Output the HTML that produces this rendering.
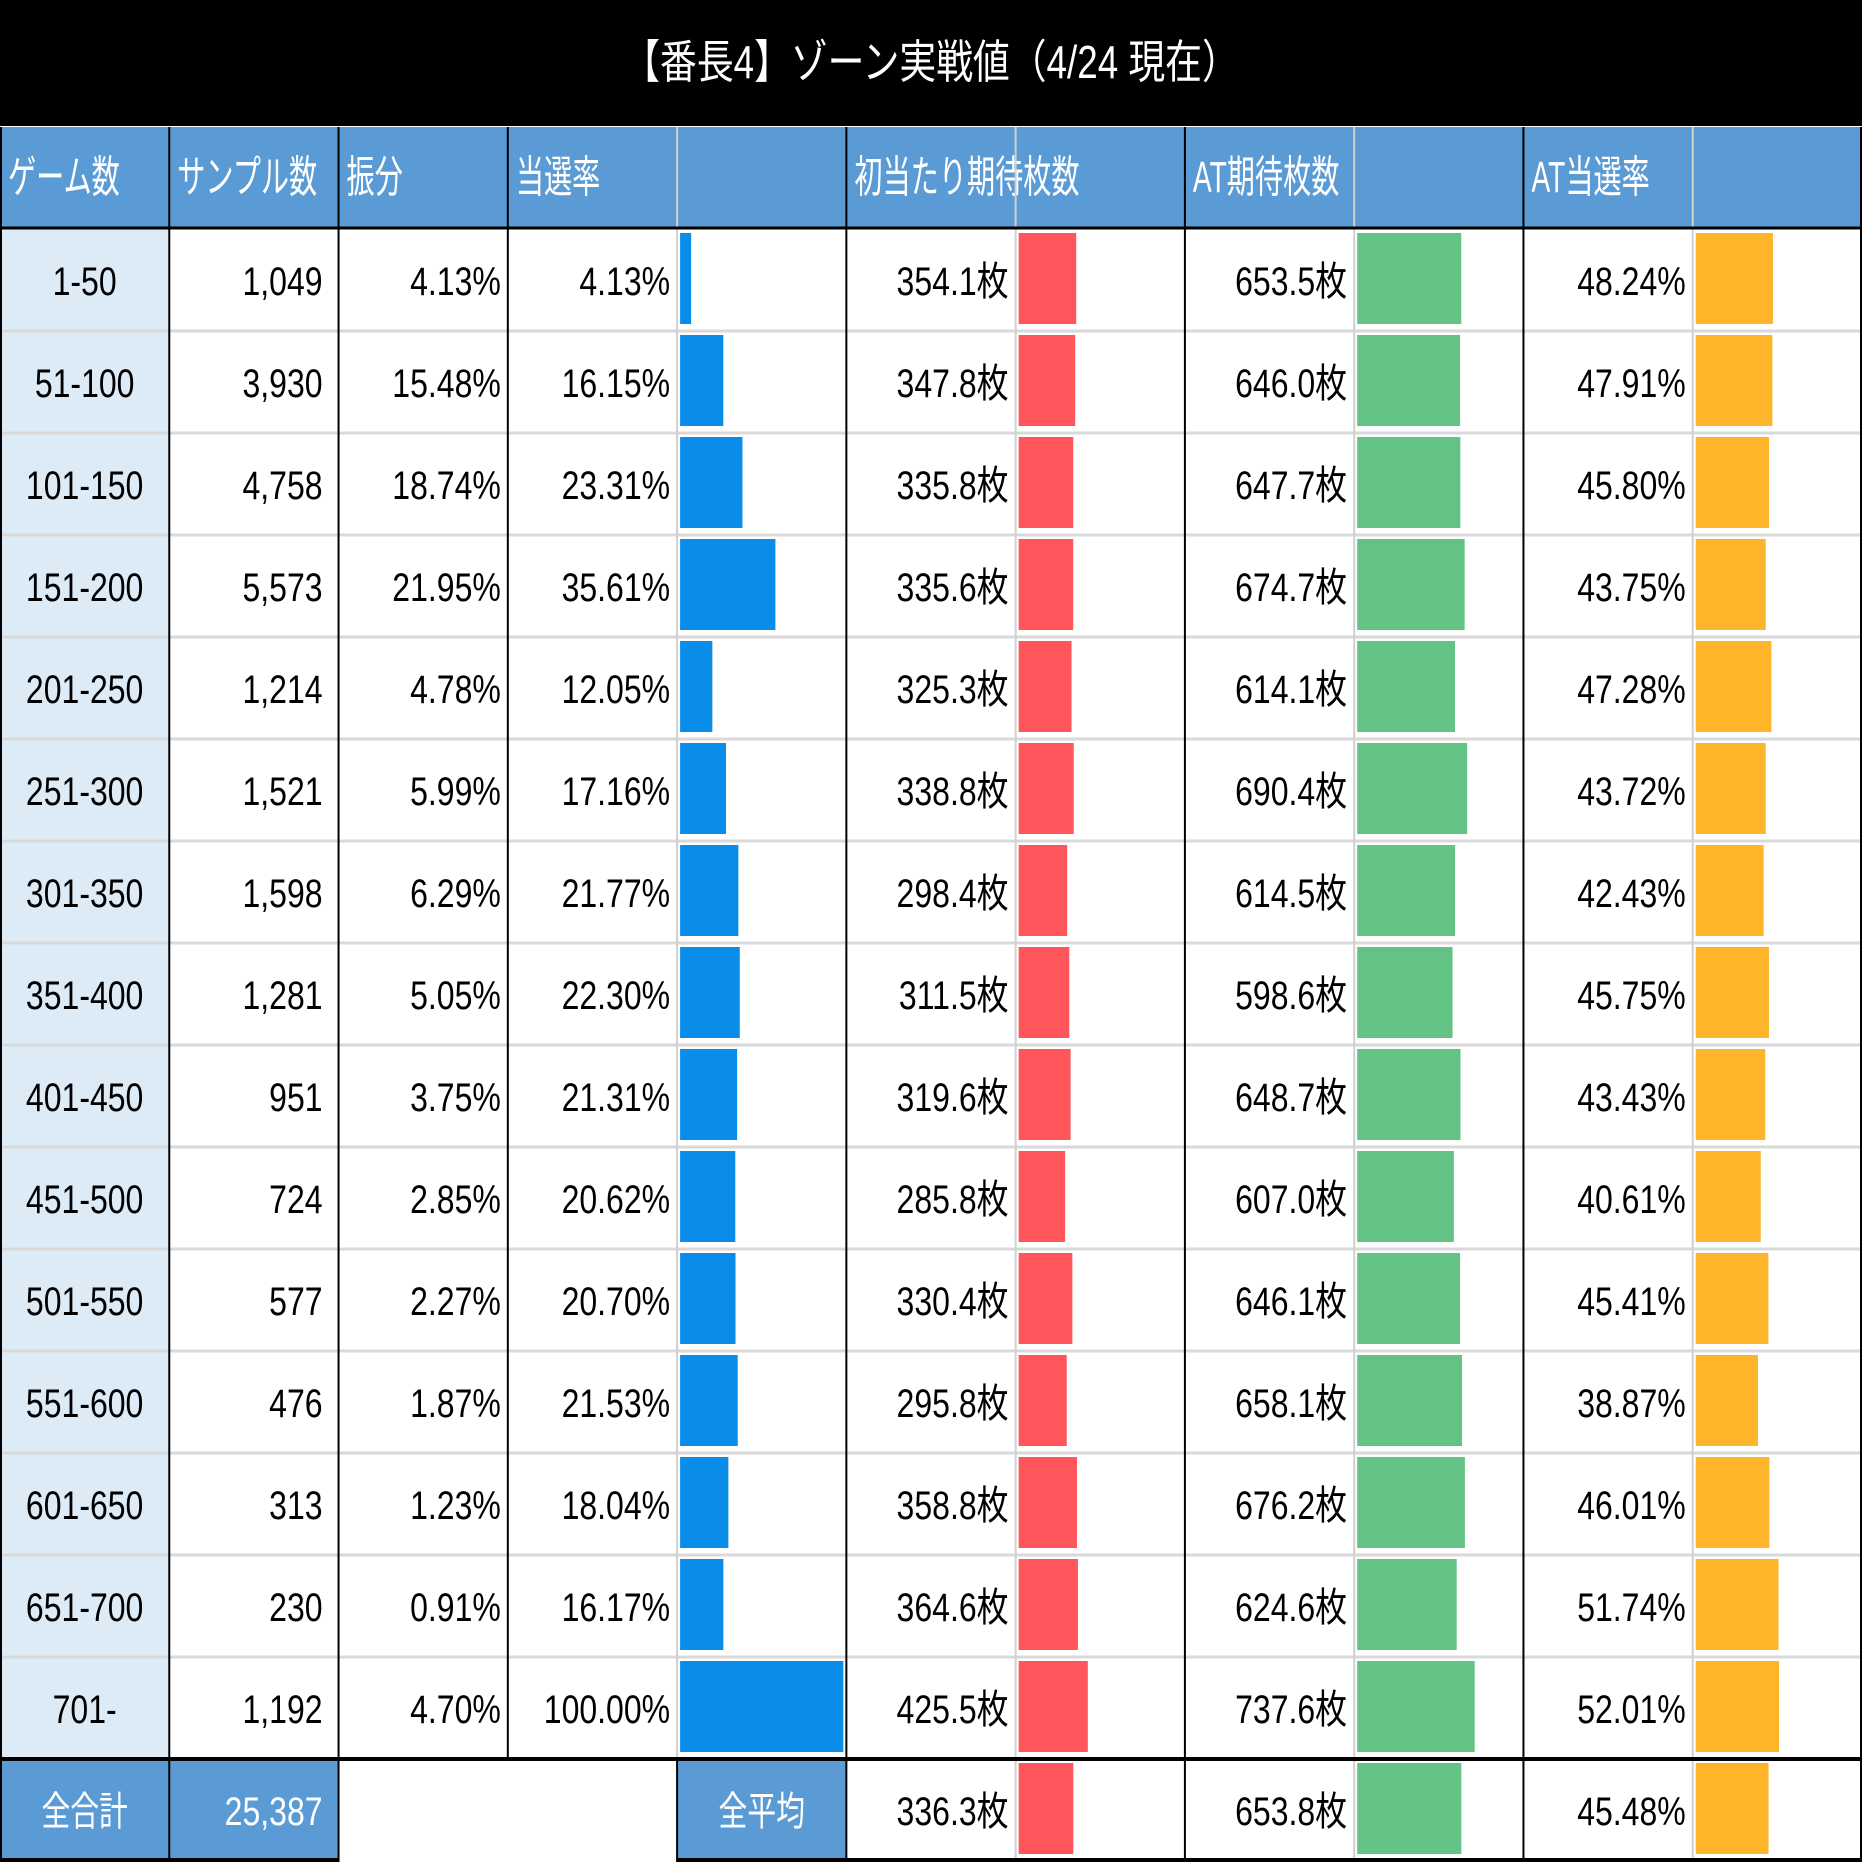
<!DOCTYPE html>
<html><head><meta charset="utf-8"><style>
html,body{margin:0;padding:0;background:#fff}
svg{display:block}
text{font-family:"Liberation Sans","Noto Sans CJK JP",sans-serif}
</style></head><body>
<svg id="chart" width="1862" height="1862" viewBox="0 0 1862 1862" xmlns="http://www.w3.org/2000/svg"></svg>
<script>
const zones=["1-50","51-100","101-150","151-200","201-250","251-300","301-350","351-400","401-450","451-500","501-550","551-600","601-650","651-700","701-"];
const samples=["1,049","3,930","4,758","5,573","1,214","1,521","1,598","1,281","951","724","577","476","313","230","1,192"];
const shares=["4.13%","15.48%","18.74%","21.95%","4.78%","5.99%","6.29%","5.05%","3.75%","2.85%","2.27%","1.87%","1.23%","0.91%","4.70%"];
const hitRate=[4.13,16.15,23.31,35.61,12.05,17.16,21.77,22.30,21.31,20.62,20.70,21.53,18.04,16.17,100.00];
const firstExp=[354.1,347.8,335.8,335.6,325.3,338.8,298.4,311.5,319.6,285.8,330.4,295.8,358.8,364.6,425.5];
const atExp=[653.5,646.0,647.7,674.7,614.1,690.4,614.5,598.6,648.7,607.0,646.1,658.1,676.2,624.6,737.6];
const atRate=[48.24,47.91,45.80,43.75,47.28,43.72,42.43,45.75,43.43,40.61,45.41,38.87,46.01,51.74,52.01];
const headers=["ゲーム数","サンプル数","振分","当選率","","初当たり期待枚数","","AT期待枚数","","AT当選率",""];
const totalSamples="25,387";
const avgFirst=336.3, avgAt=653.8, avgRate=45.48;

const svg=document.getElementById('chart');
const NS="http://www.w3.org/2000/svg";
const CW=1862/11, TOP=229, RH=102, HT=127;
function colX(c){return c*CW;}
function rowY(r){return TOP+r*RH;}
function el(tag,attrs,parent){const e=document.createElementNS(NS,tag);for(const k in attrs)e.setAttribute(k,attrs[k]);(parent||svg).appendChild(e);return e;}
function txt(s,x,y,anchor,size,fill,name,sx){
  const g=el('g',{transform:`translate(${x},${y}) scale(${sx||0.8},1)`});
  const t=el('text',{x:0,y:0,'text-anchor':anchor,'font-size':size,fill:fill},g);
  t.textContent=s;
  
  
  return t;
}
const BW=CW-6;
function bar(c,r,val,max,color,name){
  const w=Math.min(BW,Math.max(0,val/max*BW));
  const b=el('rect',{x:colX(c)+3,y:rowY(r)+4,width:w,height:RH-11,fill:color});
  
  
}
// title
const tb=el('rect',{x:0,y:0,width:1862,height:126,fill:'#000'});

txt("【番長4】ゾーン実戦値（4/24 現在）",931,78,'middle',46,'#fff','chart-title');
// header
const hb=el('rect',{x:0,y:HT,width:1862,height:100,fill:'#5b9bd5'});

headers.forEach((h,i)=>{if(h)txt(h,colX(i)+8,192,'start',44,'#fff','header-'+i,0.64);});
// first column bg
const fc=el('rect',{x:0,y:TOP,width:CW,height:15*RH,fill:'#ddebf7'});

// rows
for(let r=0;r<15;r++){
  const by=rowY(r)+RH/2+15;
  txt(zones[r],CW/2,by,'middle',40,'#000','zone-label');
  txt(samples[r],colX(2)-16,by,'end',40,'#000','sample-value');
  txt(shares[r],colX(3)-7,by,'end',40,'#000','share-value');
  txt(hitRate[r].toFixed(2)+'%',colX(4)-7,by,'end',40,'#000','hit-rate-value');
  bar(4,r,hitRate[r],61,'#0a8ce9','hit-rate-bar');
  txt(firstExp[r].toFixed(1)+'枚',colX(6)-7,by,'end',40,'#000','first-exp-value');
  bar(6,r,firstExp[r],1004,'#ff565c','first-exp-bar');
  txt(atExp[r].toFixed(1)+'枚',colX(8)-7,by,'end',40,'#000','at-exp-value');
  bar(8,r,atExp[r],1025,'#63c385','at-exp-bar');
  txt(atRate[r].toFixed(2)+'%',colX(10)-7,by,'end',40,'#000','at-rate-value');
  bar(10,r,atRate[r],102,'#ffb52a','at-rate-bar');
  if(r>0){el('line',{x1:0,x2:1862,y1:rowY(r),y2:rowY(r),stroke:'#d9d9d9','stroke-width':3});}
}
// total row
const ty=rowY(15), tby=ty+RH/2+15;
[[0,'#5b9bd5'],[1,'#5b9bd5'],[4,'#5b9bd5']].forEach(([c,f])=>{const b=el('rect',{x:colX(c),y:ty,width:CW,height:RH,fill:f});});
txt("全合計",CW/2,tby,'middle',40,'#fff','total-label',0.72);
txt(totalSamples,colX(2)-16,tby,'end',40,'#fff','total-samples');
txt("全平均",colX(4)+CW/2,tby,'middle',40,'#fff','average-label',0.72);
txt(avgFirst.toFixed(1)+'枚',colX(6)-7,tby,'end',40,'#000','avg-first-exp');
bar(6,15,avgFirst,1004,'#ff565c','avg-first-exp-bar');
txt(avgAt.toFixed(1)+'枚',colX(8)-7,tby,'end',40,'#000','avg-at-exp');
bar(8,15,avgAt,1025,'#63c385','avg-at-exp-bar');
txt(avgRate.toFixed(2)+'%',colX(10)-7,tby,'end',40,'#000','avg-at-rate');
bar(10,15,avgRate,102,'#ffb52a','avg-at-rate-bar');
// vertical lines
for(let c=1;c<11;c++){
  const light=(c===4||c===6||c===8||c===10);
  const x=colX(c);
  if(light){
    el('line',{x1:x,x2:x,y1:HT,y2:ty,stroke:'#d0d0d0','stroke-width':2});
    el('line',{x1:x,x2:x,y1:ty,y2:1862,stroke:c===4?'#000':'#d0d0d0','stroke-width':2});
  } else {
    el('line',{x1:x,x2:x,y1:HT,y2:(c===3?ty:1862),stroke:'#000','stroke-width':2});
  }
}
el('line',{x1:0,x2:1862,y1:TOP-1,y2:TOP-1,stroke:'#000','stroke-width':3});
el('line',{x1:0,x2:1862,y1:ty,y2:ty,stroke:'#000','stroke-width':4});
el('line',{x1:0,x2:colX(2),y1:1860,y2:1860,stroke:'#000','stroke-width':4});
el('line',{x1:colX(4),x2:1862,y1:1860,y2:1860,stroke:'#000','stroke-width':4});
el('line',{x1:1861,x2:1861,y1:HT,y2:1862,stroke:'#000','stroke-width':2});
el('line',{x1:1,x2:1,y1:HT,y2:1862,stroke:'#000','stroke-width':2});
</script>
</body></html>
